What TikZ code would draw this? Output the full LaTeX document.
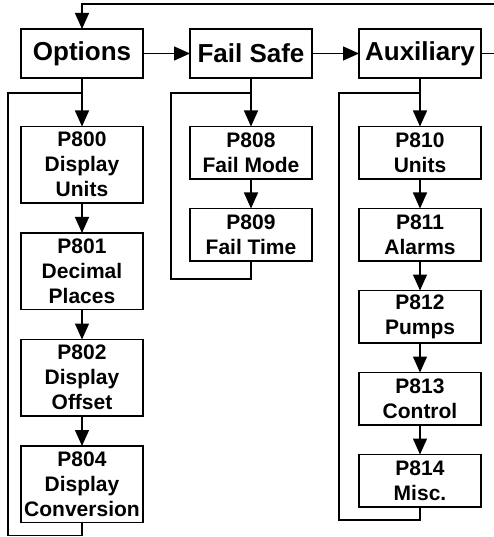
\documentclass[tikz,border=0pt]{standalone}
\usepackage{fontspec}
\setmainfont{Liberation Sans}
\usetikzlibrary{arrows.meta, positioning, calc}

\begin{document}
\begin{tikzpicture}[
  >={Triangle[length=16pt, width=14pt]}, line width=1.4pt,
  menu/.style  = {draw, rectangle, minimum width=122pt, minimum height=49pt, inner sep=2pt,
                  outer sep=0pt, font=\fontsize{26}{31}\selectfont\bfseries},
  parm/.style  = {draw, rectangle, minimum width=122pt, minimum height=52.5pt, inner sep=1pt,
                  outer sep=0pt, align=center, font=\fontsize{21}{25}\selectfont\bfseries},
  parmt/.style = {parm, minimum height=76.5pt},
]
  \useasboundingbox (-82pt,53.5pt) rectangle (412pt,-483.5pt);

  % top level menus
  \node[menu]                          (opt)  {Options};
  \node[menu, right=47pt of opt]       (fail) {Fail Safe};
  \node[menu, right=47pt of fail]      (aux)  {Auxiliary};

  % options column
  \node[parmt, below=48.5pt of opt]    (p800) {P800\\Display\\Units};
  \node[parmt, below=30pt of p800]     (p801) {P801\\Decimal\\Places};
  \node[parmt, below=30pt of p801]     (p802) {P802\\Display\\Offset};
  \node[parmt, below=30pt of p802]     (p804) {P804\\Display\\Conversion};

  % fail safe column
  \node[parm, below=48.5pt of fail]    (p808) {P808\\Fail Mode};
  \node[parm, below=29.5pt of p808]    (p809) {P809\\Fail Time};

  % auxiliary column
  \node[parm, below=48.5pt of aux]     (p810) {P810\\Units};
  \node[parm, below=29.5pt of p810]    (p811) {P811\\Alarms};
  \node[parm, below=29.5pt of p811]    (p812) {P812\\Pumps};
  \node[parm, below=29.5pt of p812]    (p813) {P813\\Control};
  \node[parm, below=29.5pt of p813]    (p814) {P814\\Misc.};

  \draw[->] (opt)  -- (fail);
  \draw[->] (fail) -- (aux);
  \draw[->] (aux.east) -- ++(20pt,0) |- ([yshift=25pt]opt.north) -- (opt.north);

  \draw[->] (opt)  -- (p800);
  \draw[->] (p800) -- (p801);
  \draw[->] (p801) -- (p802);
  \draw[->] (p802) -- (p804);

  \draw[->] (fail) -- (p808);
  \draw[->] (p808) -- (p809);

  \draw[->] (aux)  -- (p810);
  \draw[->] (p810) -- (p811);
  \draw[->] (p811) -- (p812);
  \draw[->] (p812) -- (p813);
  \draw[->] (p813) -- (p814);

  % return loops
  \coordinate (j1) at ([yshift=-15pt]opt.south);
  \coordinate (j2) at ([yshift=-15pt]fail.south);
  \coordinate (j3) at ([yshift=-15pt]aux.south);
  \draw (p804.south) -- ++(0,-13pt) -| ([xshift=-13pt]p804.west |- j1) -- (j1);
  \draw (p809.south) -- ++(0,-18pt) -| ([xshift=-19pt]p809.west |- j2) -- (j2);
  \draw (p814.south) -- ++(0,-13pt) -| ([xshift=-20pt]p814.west |- j3) -- (j3);
\end{tikzpicture}
\end{document}
